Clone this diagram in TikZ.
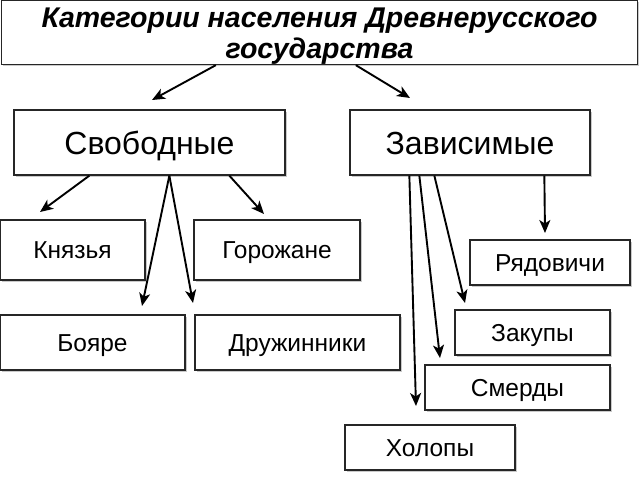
\documentclass[tikz,border=0pt]{standalone}
\usepackage{fontspec}
\setmainfont{Liberation Sans}
\usetikzlibrary{arrows.meta,shadows,calc}
\begin{document}
\begin{tikzpicture}[x=1pt,y=-1pt,
  box/.style={draw=black!85,line width=1.3pt,fill=white,inner sep=0pt,
    drop shadow={shadow xshift=1.5pt,shadow yshift=-1.5pt,opacity=0.35,fill=black!60}},
  arr/.style={line width=1.9pt,-{Stealth[length=13pt,width=11pt,inset=3.5pt]}},
  big/.style={font=\fontsize{32}{36}\selectfont,text height=23pt,text depth=0pt},
  small/.style={font=\fontsize{24.5}{28}\selectfont,text height=17.5pt,text depth=0pt}]
\useasboundingbox (0,0) rectangle (640,480);
\node[box,minimum width=636pt,minimum height=64pt] (title) at (319.5,32.5) {};
\node[font=\fontsize{28.5}{31}\selectfont\bfseries\itshape,align=center,inner sep=0pt,
  anchor=base] (ttext) at (319.5,58.5) {Категории населения Древнерусского\\государства};
\node[box,big,minimum width=271pt,minimum height=65pt] (svob) at (149.5,142.5) {Свободные};
\node[box,big,minimum width=240pt,minimum height=65pt] (zav) at (470,142.5) {Зависимые};
\node[box,small,minimum width=145pt,minimum height=60pt] (kn) at (72.5,250) {Князья};
\node[box,small,minimum width=166pt,minimum height=60pt] (gor) at (277,250) {Горожане};
\node[box,small,minimum width=160pt,minimum height=45pt] (ryad) at (550,262.5) {Рядовичи};
\node[box,small,minimum width=185pt,minimum height=55pt] (boy) at (92.5,342.5) {Бояре};
\node[box,small,minimum width=205pt,minimum height=55pt] (dru) at (297.5,342.5) {Дружинники};
\node[box,small,minimum width=155pt,minimum height=45pt] (zak) at (532.5,332.5) {Закупы};
\node[box,small,minimum width=185pt,minimum height=45pt] (sme) at (517.5,387.5) {Смерды};
\node[box,small,minimum width=170pt,minimum height=45pt] (hol) at (430,447.5) {Холопы};
% free arrow ends
\coordinate (e1) at (152,100);
\coordinate (e2) at (410,98);
\coordinate (e3) at (40,212);
\coordinate (e4) at (142,306);
\coordinate (e5) at (193,303);
\coordinate (e6) at (264,214);
\coordinate (e7) at (416,406);
\coordinate (e8) at (440,358);
\coordinate (e9) at (465,303);
\coordinate (e10) at (545,233);
\draw[arr] ([xshift=215pt]title.south west) -- (e1);
\draw[arr] ([xshift=355pt]title.south west) -- (e2);
\draw[arr] ([xshift=76pt]svob.south west) -- (e3);
\draw[arr] ([xshift=156pt]svob.south west) -- (e4);
\draw[arr] ([xshift=156pt]svob.south west) -- (e5);
\draw[arr] ([xshift=216pt]svob.south west) -- (e6);
\draw[arr] ([xshift=60pt]zav.south west) -- (e7);
\draw[arr] ([xshift=70pt]zav.south west) -- (e8);
\draw[arr] ([xshift=85pt]zav.south west) -- (e9);
\draw[arr] ([xshift=195pt]zav.south west) -- (e10);
\end{tikzpicture}
\end{document}
